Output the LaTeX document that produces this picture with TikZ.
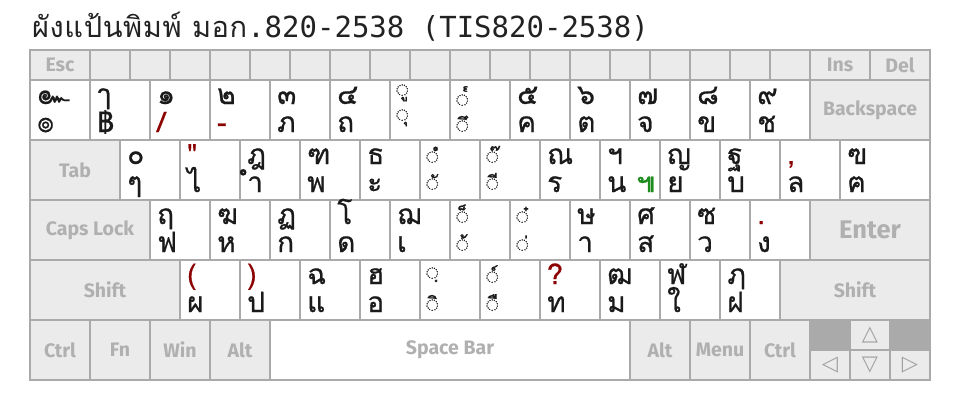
\documentclass[tikz,border=0pt]{standalone}
\usepackage{fontspec}
\setmainfont{Fira Sans}
\newfontfamily\thaifont[Script=Thai]{Loma}
\newfontfamily\thaikey[Script=Thai, FakeBold=0.7]{Loma}
\newfontfamily\monofont{DejaVu Sans Mono}
\newfontfamily\symfont{DejaVu Sans}
\definecolor{keyline}{HTML}{AAAAAA}
\definecolor{specfill}{HTML}{EBEBEB}
\definecolor{spectext}{HTML}{B0B0B0}
\definecolor{punct}{HTML}{8B0000}
\definecolor{altgreen}{HTML}{1E8C1E}
\definecolor{glyph}{HTML}{1A1A1A}
\definecolor{titlecol}{HTML}{222222}
\definecolor{arrowcol}{HTML}{A0A0A0}
\newcommand\punc[1]{\textcolor{punct}{#1}}
\tikzset{
  keybase/.style={draw=keyline, line width=1.6pt, inner sep=0pt, outer sep=0pt, anchor=north west},
  charkey/.style={keybase, fill=white, minimum height=60pt},
  speckey/.style={keybase, fill=specfill},
  spectxt/.style={text=spectext, font=\fontsize{19.5}{19.5}\selectfont\bfseries, inner sep=0pt},
  darkkey/.style={keybase, fill=keyline, minimum width=40pt, minimum height=30pt},
  arrowkey/.style={keybase, fill=specfill, text=arrowcol, minimum width=40pt, minimum height=30pt, font=\symfont\fontsize{21}{21}\selectfont},
  lab/.style={anchor=base west, inner sep=0pt, text=glyph, font=\thaikey\fontsize{28}{28}\selectfont},
  marklab/.style={anchor=base west, inner sep=0pt, text=glyph, font=\thaikey\fontsize{20}{20}\selectfont},
}
% character key: name, x, y, width, top, bottom
\newcommand\ck[6]{%
  \node[charkey, minimum width=#4pt] (#1) at (#2,#3) {};
  \node[lab] (#1-t) at ([shift={(7pt,-24pt)}]#1.north west) {#5};
  \node[lab] (#1-b) at ([shift={(7pt,-52pt)}]#1.north west) {#6};}
% mark key: name, x, y, top, top baseline, bottom, bottom baseline
\newcommand\mkk[7]{%
  \node[charkey, minimum width=60pt] (#1) at (#2,#3) {};
  \node[marklab] (#1-t) at ([shift={(6pt,-#5pt)}]#1.north west) {#4};
  \node[marklab] (#1-b) at ([shift={(6pt,-#7pt)}]#1.north west) {#6};}
% special key: name, x, y, width, height, text
\newcommand\sk[6]{%
  \node[speckey, minimum width=#4pt, minimum height=#5pt] (#1) at (#2,#3) {};
  \node[spectxt] (#1-l) at (#1.center) {#6};}
\begin{document}
\begin{tikzpicture}[x=1pt, y=-1pt]
\useasboundingbox (0,0) rectangle (960,400);
\node[anchor=base west, inner sep=0pt, text=titlecol] (title) at (32,37)
  {\fontsize{29}{29}\selectfont{\thaifont\addfontfeature{LetterSpace=2} ผังแป้นพิมพ์ มอก}{\monofont .820-2538 (TIS820-2538)}};
% function row
\sk{esc}{30}{50}{60}{30}{Esc}
\foreach \i in {0,...,17} {
  \node[speckey, minimum width=40pt, minimum height=30pt] (f\i) at ({90+40*\i},50) {};
}
\sk{ins}{810}{50}{60}{30}{Ins}
\sk{del}{870}{50}{60}{30}{Del}
% number row
\ck{k1}{30}{80}{60}{๛}{๏}
\ck{k2}{90}{80}{60}{ๅ}{฿}
\ck{k3}{150}{80}{60}{๑}{\punc{/}}
\ck{k4}{210}{80}{60}{๒}{\punc{-}}
\ck{k5}{270}{80}{60}{๓}{ภ}
\ck{k6}{330}{80}{60}{๔}{ถ}
\mkk{k7}{390}{80}{◌ู}{16}{◌ุ}{41}
\mkk{k8}{450}{80}{◌๎}{26}{◌ึ}{52}
\ck{k9}{510}{80}{60}{๕}{ค}
\ck{k10}{570}{80}{60}{๖}{ต}
\ck{k11}{630}{80}{60}{๗}{จ}
\ck{k12}{690}{80}{60}{๘}{ข}
\ck{k13}{750}{80}{60}{๙}{ช}
\sk{bksp}{810}{80}{120}{60}{Backspace}
% tab row
\sk{tab}{30}{140}{90}{60}{Tab}
\ck{q}{120}{140}{60}{๐}{ๆ}
\ck{w}{180}{140}{60}{\punc{"}}{ไ}
\ck{e}{240}{140}{60}{ฎ}{ำ}
\ck{r}{300}{140}{60}{ฑ}{พ}
\ck{t}{360}{140}{60}{ธ}{ะ}
\mkk{y}{420}{140}{◌ํ}{23}{◌ั}{50}
\mkk{u}{480}{140}{◌๊}{23}{◌ี}{50}
\ck{i}{540}{140}{60}{ณ}{ร}
\ck{o}{600}{140}{60}{ฯ}{น}
\node[lab, text=altgreen] (o-g) at ([shift={(36pt,-52pt)}]o.north west) {๚};
\ck{p}{660}{140}{60}{ญ}{ย}
\ck{lb}{720}{140}{60}{ฐ}{บ}
\ck{rb}{780}{140}{60}{\punc{,}}{ล}
\ck{bsl}{840}{140}{90}{ฃ}{ฅ}
% caps row
\sk{caps}{30}{200}{120}{60}{Caps Lock}
\ck{a}{150}{200}{60}{ฤ}{ฟ}
\ck{s}{210}{200}{60}{ฆ}{ห}
\ck{d}{270}{200}{60}{ฏ}{ก}
\ck{f}{330}{200}{60}{โ}{ด}
\ck{g}{390}{200}{60}{ฌ}{เ}
\mkk{h}{450}{200}{◌็}{23}{◌้}{51}
\mkk{j}{510}{200}{◌๋}{23}{◌่}{51}
\ck{k}{570}{200}{60}{ษ}{า}
\ck{l}{630}{200}{60}{ศ}{ส}
\ck{sc}{690}{200}{60}{ซ}{ว}
\ck{qt}{750}{200}{60}{\punc{.}}{ง}
\node[speckey, minimum width=120pt, minimum height=60pt] (enter) at (810,200) {};
\node[spectxt, font=\fontsize{25.5}{25.5}\selectfont\bfseries] (enter-l) at (enter.center) {Enter};
% shift row
\sk{lshift}{30}{260}{150}{60}{Shift}
\ck{z}{180}{260}{60}{\punc{(}}{ผ}
\ck{x}{240}{260}{60}{\punc{)}}{ป}
\ck{c}{300}{260}{60}{ฉ}{แ}
\ck{v}{360}{260}{60}{ฮ}{อ}
\mkk{b}{420}{260}{◌ฺ}{19}{◌ิ}{51}
\mkk{n}{480}{260}{◌์}{23}{◌ื}{51}
\ck{m}{540}{260}{60}{\punc{?}}{ท}
\ck{cm}{600}{260}{60}{ฒ}{ม}
\ck{pd}{660}{260}{60}{ฬ}{ใ}
\ck{sl}{720}{260}{60}{ฦ}{ฝ}
\sk{rshift}{780}{260}{150}{60}{Shift}
% bottom row
\sk{lctrl}{30}{320}{60}{60}{Ctrl}
\sk{fn}{90}{320}{60}{60}{Fn}
\sk{win}{150}{320}{60}{60}{Win}
\sk{lalt}{210}{320}{60}{60}{Alt}
\node[keybase, fill=white, minimum width=360pt, minimum height=60pt] (space) at (270,320) {};
\node[spectxt] (space-l) at (space.center) {Space Bar};
\sk{ralt}{630}{320}{60}{60}{Alt}
\sk{menu}{690}{320}{60}{60}{Menu}
\sk{rctrl}{750}{320}{60}{60}{Ctrl}
\node[darkkey] (blankl) at (810,320) {};
\node[arrowkey] (up) at (850,320) {△};
\node[darkkey] (blankr) at (890,320) {};
\node[arrowkey] (left) at (810,350) {◁};
\node[arrowkey] (down) at (850,350) {▽};
\node[arrowkey] (right) at (890,350) {▷};
\end{tikzpicture}
\end{document}
